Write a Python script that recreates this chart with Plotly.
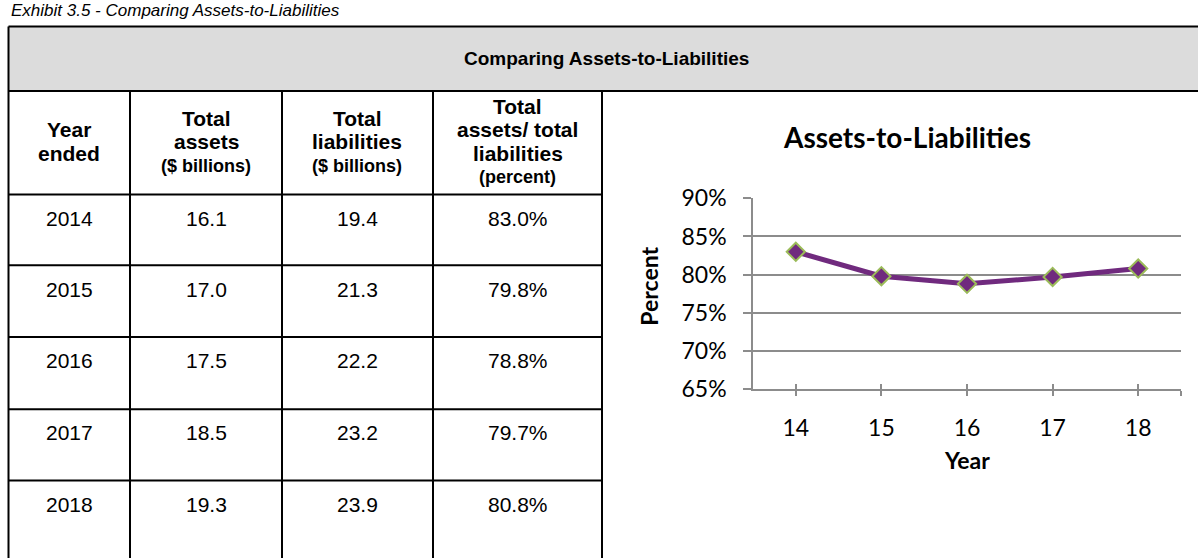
import plotly.graph_objects as go

W, H = 1198, 558

# ── data ──────────────────────────────────────────────────────────────────────
years = ["2014", "2015", "2016", "2017", "2018"]
total_assets = [16.1, 17.0, 17.5, 18.5, 19.3]        # $ billions
total_liabilities = [19.4, 21.3, 22.2, 23.2, 23.9]   # $ billions
ratio_pct = [83.0, 79.8, 78.8, 79.7, 80.8]           # percent
year_short = [14, 15, 16, 17, 18]

header_lines = [
    ["Year", "ended"],
    ["Total", "assets", "($ billions)"],
    ["Total", "liabilities", "($ billions)"],
    ["Total", "assets/ total", "liabilities", "(percent)"],
]

# ── colours / fonts ───────────────────────────────────────────────────────────
C_LINE = "#702A7E"
C_EDGE = "#9BBB59"
C_GRID = "#8C8C8C"
C_HEAD = "#DCDCDC"
F_TAB = "Liberation Sans, Arial, sans-serif"
F_CHART = "Lato, Carlito, Calibri, sans-serif"


def px(x):
    return x / W


def py(y):
    return 1 - y / H


# table geometry (pixels)
col_x = [8.5, 130, 282, 433, 602]
row_y = [189, 263.5, 339, 415, 490, 566]
top_y, head_y = 12, 80

fig = go.Figure()

fig.add_trace(go.Scatter(
    x=year_short, y=ratio_pct, mode="lines",
    line=dict(color=C_LINE, width=5),
    hoverinfo="skip", showlegend=False,
))
fig.add_trace(go.Scatter(
    x=year_short, y=ratio_pct, mode="markers", xaxis="x2",
    marker=dict(symbol="diamond", size=14, color=C_LINE,
                line=dict(color=C_EDGE, width=2)),
    hovertemplate="%{x}: %{y:.1f}%<extra></extra>",
    showlegend=False,
))

shapes = []
line_k = dict(color="black", width=2)


def hline(y, x0, x1):
    shapes.append(dict(type="line", xref="paper", yref="paper",
                       x0=x0, x1=x1, y0=py(y), y1=py(y), line=line_k))


def vline(x, y0, y1):
    shapes.append(dict(type="line", xref="paper", yref="paper",
                       x0=px(x), x1=px(x), y0=y0, y1=y1, line=line_k))


# grey title band
shapes.append(dict(type="rect", xref="paper", yref="paper",
                   x0=px(col_x[0]), x1=1.05, y0=py(head_y), y1=py(top_y),
                   fillcolor=C_HEAD, line=dict(width=0), layer="below"))
hline(top_y, px(col_x[0]), 1.05)
hline(head_y, px(col_x[0]), 1.05)
vline(col_x[0], py(top_y), -0.05)
for cx in col_x[1:]:
    vline(cx, py(head_y), -0.05)
for ry in row_y[:-1]:
    hline(ry, px(col_x[0]), px(col_x[-1]))

ann = []


def text(x, y, s, size, family=F_TAB, bold=False, italic=False,
         xanchor="center", yanchor="middle", **kw):
    if bold:
        s = f"<b>{s}</b>"
    if italic:
        s = f"<i>{s}</i>"
    ann.append(dict(x=px(x), y=py(y), xref="paper", yref="paper", text=s,
                    showarrow=False, xanchor=xanchor, yanchor=yanchor,
                    font=dict(family=family, size=size, color="black"), **kw))


# caption (clipped at top like the source page)
text(9, 7, "Exhibit 3.5 - Comparing Assets-to-Liabilities", 17, italic=True,
     xanchor="left", yanchor="bottom")
text(606, 46, "Comparing Assets-to-Liabilities", 19, bold=True)

# column headers
head_mid = (head_y + row_y[0]) / 2 - 1
for c, lines in enumerate(header_lines):
    cx = (col_x[c] + col_x[c + 1]) / 2
    n = len(lines)
    for i, s in enumerate(lines):
        yy = head_mid + (i - (n - 1) / 2) * 25
        small = s.startswith("(")
        text(cx, yy, s, 18 if small else 21, bold=True)

# body cells
for r, yr in enumerate(years):
    yy = row_y[r] + 25
    cells = [yr, f"{total_assets[r]:.1f}", f"{total_liabilities[r]:.1f}", f"{ratio_pct[r]:.1f}%"]
    for c, s in enumerate(cells):
        text((col_x[c] + col_x[c + 1]) / 2, yy, s, 21)

# chart labels
text(907, 128, "Assets-to-Liabilities", 28, family=F_CHART, bold=True)
text(649, 286, "Percent", 23, family=F_CHART, bold=True, textangle=-90)
text(967, 469, "Year", 23, family=F_CHART, bold=True)

tickvals = year_short + [18.5]
ticktext = [str(v) for v in year_short] + [""]

fig.update_layout(
    width=W, height=H, autosize=False,
    margin=dict(l=0, r=0, t=0, b=0),
    paper_bgcolor="white", plot_bgcolor="white",
    shapes=shapes, annotations=ann,
    xaxis=dict(domain=[px(753), px(1181)], range=[13.5, 18.5],
               tickvals=tickvals, ticktext=ticktext,
               ticks="outside", ticklen=5, tickwidth=1.5, tickcolor=C_GRID,
               showline=True, linecolor=C_GRID, linewidth=1.5,
               showgrid=False, zeroline=False, ticklabelstandoff=12,
               tickfont=dict(family=F_CHART, size=23, color="black")),
    xaxis2=dict(overlaying="x", matches="x", anchor="y",
                tickvals=tickvals, ticks="inside", ticklen=5, tickwidth=1.5,
                tickcolor=C_GRID, showticklabels=False, showline=False,
                showgrid=False, zeroline=False),
    yaxis=dict(domain=[py(394), py(193)], range=[65, 90], dtick=5, tick0=65,
               ticksuffix="%", ticks="outside", ticklen=8, tickwidth=1.5,
               tickcolor=C_GRID, showline=True, linecolor=C_GRID, linewidth=1.5,
               showgrid=True, gridcolor=C_GRID, gridwidth=1.5, zeroline=False,
               ticklabelstandoff=12,
               tickfont=dict(family=F_CHART, size=23, color="black")),
)

# drop the page's default body margin so the figure sits at the window corner
fig.write_html("out.html", config={"displayModeBar": False},
               post_script="document.body.style.margin = '0';")
